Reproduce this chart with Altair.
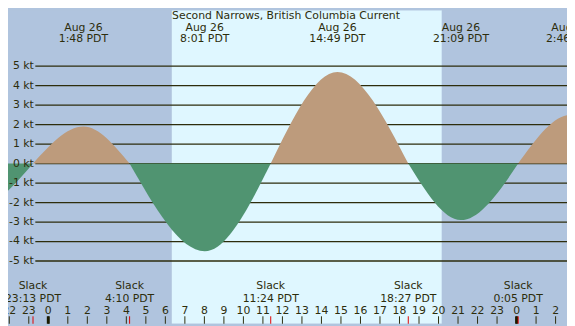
import altair as alt
import pandas as pd

# ---- data (hours from midnight Aug 26, PDT; knots) ----
title_text = "Second Narrows, British Columbia Current"
sunrise_hour = 6.33
sunset_hour = 20.17

slack_hours = [-0.783, 4.167, 11.4, 18.45, 24.083]
slack_text = ["23:13 PDT", "4:10 PDT", "11:24 PDT", "18:27 PDT", "0:05 PDT"]

peak_hours = [1.8, 8.017, 14.817, 21.15, 26.767]
peak_kt = [1.9, -4.5, 4.7, -2.9, 2.5]
peak_date = ["Aug 26", "Aug 26", "Aug 26", "Aug 26", "Aug 27"]
peak_text = ["1:48 PDT", "8:01 PDT", "14:49 PDT", "21:09 PDT", "2:46 PDT"]

# events just outside the view (shape the edges)
prev_slack_hour = -6.9
prev_peak_hour, prev_peak_kt = -3.9, -2.4
next_slack_hour = 29.6

kt_levels = [-5, -4, -3, -2, -1, 0, 1, 2, 3, 4, 5]
hour_ticks = list(range(-2, 27))
midnight_hours = [0, 24]

# ---- layout: chart sits at page (8,8) and fills the rest of the window ----
CW, CH = 567, 318
RX0, RY0 = 2.0, 3.0                 # reference pixel shown at the chart's top-left
SX = CW / (575 - RX0)
SY = CH / (326 - RY0)
def px(rx):
    return (rx - RX0) * SX
def py(ry):
    return (ry - RY0) * SY

# reference geometry: x = 43.3 + 20*hour ; y = 161 - 20.07*kt
x_dom = [(RX0 - 43.3) / 20, (575 - 43.3) / 20]
y_dom = [(161 - 326) / 20.07, (161 - RY0) / 20.07]

# ---- styling ----
FONT = "DejaVu Sans"
TXT = "#2d2d0c"
NIGHT = "#b0c4de"
DAY = "#dff7ff"
FLOOD = "#bd9b7c"
EBB = "#509471"
FS = 11

# ---- tables ----
pts = [(prev_slack_hour, 0.0), (prev_peak_hour, prev_peak_kt)]
for s, p, v in zip(slack_hours, peak_hours, peak_kt):
    pts += [(s, 0.0), (p, v)]
pts.append((next_slack_hour, 0.0))
rows = []
for i in range(0, len(pts) - 2, 2):
    kind = "flood" if pts[i + 1][1] > 0 else "ebb"
    for j in range(3):
        rows.append({"h": pts[i + j][0], "kt": pts[i + j][1], "seg": i // 2, "kind": kind})
curve = pd.DataFrame(rows)

bands = pd.DataFrame({
    "a": [x_dom[0] - 1, sunrise_hour, sunset_hour],
    "b": [sunrise_hour, sunset_hour, x_dom[1] + 1],
    "c": [NIGHT, DAY, NIGHT],
})
levels = pd.DataFrame({"kt": kt_levels, "lab": [f"{k} kt" for k in kt_levels]})
peaks = pd.DataFrame({"h": peak_hours, "d": peak_date, "t": peak_text})
slacks = pd.DataFrame({"h": slack_hours, "t": slack_text})
hours = pd.DataFrame({"h": hour_ticks, "lab": [str(h % 24) for h in hour_ticks]})
mids = pd.DataFrame({"h": midnight_hours})

xs = alt.Scale(domain=x_dom, nice=False, zero=False)
ys = alt.Scale(domain=y_dom, nice=False, zero=False)


def X(f="h"):
    return alt.X(f"{f}:Q", scale=xs, axis=None)


def Y(f="kt"):
    return alt.Y(f"{f}:Q", scale=ys, axis=None)


def txt(df, **kw):
    return alt.Chart(df).mark_text(font=FONT, fontSize=FS, color=TXT, **kw)


bg = alt.Chart(bands).mark_rect(clip=True).encode(
    x=X("a"), x2="b:Q", y=alt.value(0), y2=alt.value(CH),
    color=alt.Color("c:N", scale=None, legend=None))

grid = alt.Chart(levels).mark_rule(color=TXT, strokeWidth=1.3).encode(
    x=alt.value(px(30)), x2=alt.value(CW), y=Y())

ylab = txt(levels, align="right", baseline="middle").encode(
    x=alt.value(px(28.5)), y=Y(), text="lab:N")

flood = alt.Chart(curve[curve.kind == "flood"]).mark_area(
    interpolate="monotone", color=FLOOD, clip=True
).encode(x=X(), y=Y(), y2=alt.datum(0), detail="seg:N")

ebb = alt.Chart(curve[curve.kind == "ebb"]).mark_area(
    interpolate="monotone", color=EBB, clip=True
).encode(x=X(), y=Y(), y2=alt.datum(0), detail="seg:N")

title = txt(pd.DataFrame({"t": [title_text]}), align="center", baseline="alphabetic").encode(
    x=alt.value(px(287)), y=alt.value(py(11.7)), text="t:N")

pk_date = txt(peaks, align="center", baseline="alphabetic").encode(
    x=X(), y=alt.value(py(24)), text="d:N")
pk_time = txt(peaks, align="center", baseline="alphabetic").encode(
    x=X(), y=alt.value(py(36)), text="t:N")

sl_word = txt(slacks, align="center", baseline="alphabetic").encode(
    x=X(), y=alt.value(py(290.7)), text=alt.value("Slack"))
sl_time = txt(slacks, align="center", baseline="alphabetic").encode(
    x=X(), y=alt.value(py(303.3)), text="t:N")

hr_lab = txt(hours, align="center", baseline="alphabetic").encode(
    x=X(), y=alt.value(py(316)), text="lab:N")
hr_tick = alt.Chart(hours).mark_rule(color=TXT, strokeWidth=1).encode(
    x=X(), y=alt.value(py(318.3)), y2=alt.value(CH))
mid_tick = alt.Chart(mids).mark_rule(color="#1a1a00", strokeWidth=3).encode(
    x=X(), y=alt.value(py(318.3)), y2=alt.value(CH))
sl_tick = alt.Chart(slacks).mark_rule(color="#e00000", strokeWidth=1).encode(
    x=X(), y=alt.value(py(318.3)), y2=alt.value(CH))

chart = alt.layer(
    bg, grid, flood, ebb, ylab, title, pk_date, pk_time,
    sl_word, sl_time, hr_lab, hr_tick, mid_tick, sl_tick
).properties(
    width=CW, height=CH, autosize="none", padding=0,
    background=NIGHT,
).configure_view(stroke=None)

chart.save("out.html", embed_options={"renderer": "svg", "actions": False})
